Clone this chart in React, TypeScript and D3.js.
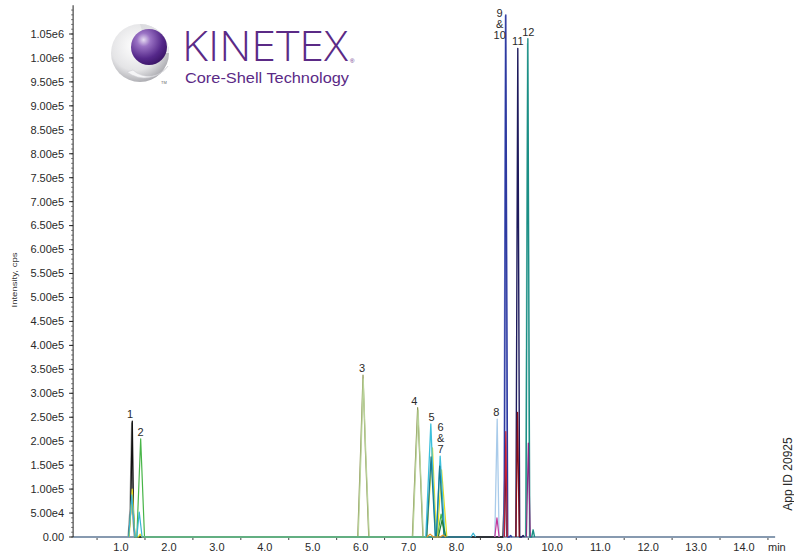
import React from "react";
import * as d3 from "d3";

type Pt = [number, number];

// ---- axis data ----
const xTickValues = [1, 2, 3, 4, 5, 6, 7, 8, 9, 10, 11, 12, 13, 14];
const xMinorValues = [0.5, 1.5, 2.5, 3.5, 4.5, 5.5, 6.5, 7.5, 8.5, 9.5, 10.5, 11.5, 12.5, 13.5, 14.5];
const yTickLabels = [
  "0.00", "5.00e4", "1.00e5", "1.50e5", "2.00e5", "2.50e5", "3.00e5", "3.50e5",
  "4.00e5", "4.50e5", "5.00e5", "5.50e5", "6.00e5", "6.50e5", "7.00e5", "7.50e5",
  "8.00e5", "8.50e5", "9.00e5", "9.50e5", "1.00e6", "1.05e6",
];
const yTickStep = 50000;

// ---- traces (time min, intensity cps) ----
const baseline: Pt[] = [[0, 0], [14.65, 0]];
const traceGray: Pt[] = [[1.15, 0], [1.19, 60000], [1.225, 238000], [1.25, 40000], [1.28, 0]];
const traceBlack: Pt[] = [[1.16, 0], [1.20, 50000], [1.235, 242000], [1.26, 50000], [1.29, 0], [8.97, 0], [9.015, 150000], [9.05, 0]];
const traceYellow: Pt[] = [[1.17, 0], [1.235, 100000], [1.29, 0], [1.36, 0], [1.40, 6000], [1.44, 0], [7.38, 0], [7.50, 186000], [7.58, 0], [7.60, 0], [7.69, 140000], [7.80, 0]];
const traceCyan: Pt[] = [[1.16, 0], [1.225, 88000], [1.29, 0], [1.33, 0], [1.38, 52000], [1.44, 0], [8.30, 0], [8.35, 8000], [8.40, 0]];
const traceCyan2: Pt[] = [[7.36, 0], [7.465, 236000], [7.56, 0], [7.58, 0], [7.66, 169000], [7.76, 0]];
const traceGreen: Pt[] = [[1.33, 0], [1.41, 205000], [1.49, 0], [7.60, 0], [7.68, 48000], [7.76, 0]];
const traceOlive: Pt[] = [[5.94, 0], [6.00, 180000], [6.05, 338000], [6.10, 180000], [6.17, 0], [7.08, 0], [7.14, 150000], [7.19, 270000], [7.24, 150000], [7.30, 0]];
const traceLightGreen: Pt[] = [[5.95, 0], [6.01, 180000], [6.055, 330000], [6.11, 170000], [6.18, 0], [7.09, 0], [7.15, 150000], [7.20, 265000], [7.25, 140000], [7.31, 0]];
const traceDarkTeal: Pt[] = [[7.38, 0], [7.47, 167000], [7.56, 0], [7.58, 0], [7.65, 148000], [7.74, 0]];
const traceDarkGreen: Pt[] = [[7.62, 0], [7.70, 35000], [7.78, 0]];
const traceOrange: Pt[] = [[7.38, 0], [7.45, 6000], [7.52, 0], [7.66, 0], [7.72, 4000], [7.78, 0]];
const traceLightBlue: Pt[] = [[8.80, 0], [8.85, 246000], [8.89, 0]];
const traceMagenta: Pt[] = [[8.80, 0], [8.845, 40000], [8.89, 0]];
const traceBlueLight: Pt[] = [[8.99, 0], [9.02, 1088000], [9.06, 0]];
const traceBlue: Pt[] = [[9.00, 0], [9.03, 1090000], [9.07, 0], [9.10, 0], [9.13, 3000], [9.16, 0]];
const traceCrimson: Pt[] = [[9.00, 0], [9.03, 220000], [9.06, 0]];
const traceNavy: Pt[] = [[9.24, 0], [9.28, 1020000], [9.32, 0], [9.36, 0], [9.39, 3000], [9.42, 0]];
const traceDarkRed: Pt[] = [[9.24, 0], [9.275, 260000], [9.31, 0]];
const traceTeal: Pt[] = [[9.45, 0], [9.49, 1040000], [9.53, 0], [9.57, 0], [9.60, 15000], [9.63, 0]];
const traceTealLight: Pt[] = [[9.44, 0], [9.48, 1030000], [9.52, 0]];
const tracePurple: Pt[] = [[9.46, 0], [9.50, 196000], [9.54, 0]];

const traces: { data: Pt[]; color: string; width: number }[] = [
  { data: baseline, color: "#5f7896", width: 1.6 },
  { data: traceOlive, color: "#8c9552", width: 1.2 },
  { data: traceLightGreen, color: "#b9d39a", width: 1.2 },
  { data: traceGray, color: "#9a9a9a", width: 1.6 },
  { data: traceBlack, color: "#111111", width: 1.3 },
  { data: traceGreen, color: "#48b548", width: 1.2 },
  { data: traceYellow, color: "#e3dc22", width: 1.2 },
  { data: traceCyan, color: "#38b5d3", width: 1.2 },
  { data: traceCyan2, color: "#3cc0dc", width: 1.3 },
  { data: traceDarkTeal, color: "#1a7c92", width: 1.3 },
  { data: traceDarkGreen, color: "#238036", width: 1.2 },
  { data: traceOrange, color: "#e39a2b", width: 1.2 },
  { data: traceLightBlue, color: "#a9cbea", width: 1.3 },
  { data: traceMagenta, color: "#c2389a", width: 1.2 },
  { data: traceBlueLight, color: "#8090d8", width: 1.3 },
  { data: traceBlue, color: "#2e3aa0", width: 1.4 },
  { data: traceCrimson, color: "#c31f36", width: 1.2 },
  { data: traceNavy, color: "#1d1a5c", width: 1.4 },
  { data: traceDarkRed, color: "#8a0f1a", width: 1.3 },
  { data: traceTealLight, color: "#9fd0c8", width: 1.2 },
  { data: traceTeal, color: "#1b8f86", width: 1.4 },
  { data: tracePurple, color: "#8c2a82", width: 1.2 },
];

// ---- peak labels ----
const peakLabels: { lines: string[]; t: number; v: number }[] = [
  { lines: ["1"], t: 1.19, v: 242000 },
  { lines: ["2"], t: 1.41, v: 205000 },
  { lines: ["3"], t: 6.03, v: 338000 },
  { lines: ["4"], t: 7.12, v: 270000 },
  { lines: ["5"], t: 7.48, v: 236000 },
  { lines: ["6", "&", "7"], t: 7.67, v: 169000 },
  { lines: ["8"], t: 8.83, v: 246000 },
  { lines: ["9", "&", "10"], t: 8.86, v: 1090000 },
  { lines: ["11"], t: 9.28, v: 1020000 },
  { lines: ["12"], t: 9.50, v: 1040000 },
];
// label placed beside (not above) the apex for the crowded top group
const labelBeside = new Set(["9"]);

const W = 794;
const H = 552;
const X0 = 73.1;
const PXPERMIN = 47.92;
const Y0 = 537;
const YTOP = 34;

export default function App() {
  const x = d3.scaleLinear().domain([0, 14.65]).range([X0, X0 + 14.65 * PXPERMIN]);
  const y = d3.scaleLinear().domain([0, 1050000]).range([Y0, YTOP]);
  const line = d3.line<Pt>().x((d) => x(d[0])).y((d) => y(d[1])).curve(d3.curveLinear);
  const font = "'Liberation Sans', Arial, Helvetica, sans-serif";
  const axisTop = y(1110000);
  const minorY = d3.range(0, 1100001, 10000);
  const purple = "#5b2a86";

  return (
    <svg width={W} height={H} style={{ position: "absolute", left: 0, top: 0, background: "#fff" }} fontFamily={font}>
      <defs>
        <radialGradient id="shell" cx="0.42" cy="0.38" r="0.7">
          <stop offset="0" stopColor="#ffffff" />
          <stop offset="0.6" stopColor="#e4e4e6" />
          <stop offset="1" stopColor="#9c9ca2" />
        </radialGradient>
        <radialGradient id="core" cx="0.35" cy="0.3" r="0.75">
          <stop offset="0" stopColor="#e6dcf2" />
          <stop offset="0.25" stopColor="#9a72c4" />
          <stop offset="0.7" stopColor="#55288a" />
          <stop offset="1" stopColor="#3a1466" />
        </radialGradient>
        <linearGradient id="inner" x1="0" y1="0" x2="1" y2="1">
          <stop offset="0" stopColor="#d8d8dc" />
          <stop offset="1" stopColor="#f6f6f8" />
        </linearGradient>
      </defs>

      {/* logo */}
      <g>
        <circle cx={140} cy={53} r={29} fill="url(#shell)" />
        <path d="M 140 24 A 29 29 0 0 1 169 53 L 149 53 Z" fill="url(#inner)" opacity={0.9} />
        <circle cx={149} cy={47} r={18} fill="url(#core)" />
        <path d="M 127 72 A 29 29 0 0 0 168 66 A 23 23 0 0 1 133 70 Z" fill="#f4f4f6" stroke="#cfcfd4" strokeWidth={0.6} />
        <text x={161} y={84} fontSize={4} fill="#666">TM</text>
        <text x={182} y={61} fontSize={42} fill={purple} textLength={166} lengthAdjust="spacingAndGlyphs" fontWeight={300} fontFamily="'Open Sans', 'Liberation Sans', sans-serif">KINETEX</text>
        <text x={350} y={63} fontSize={6} fill={purple}>®</text>
        <text x={185} y={83} fontSize={15} fill={purple} textLength={164} lengthAdjust="spacingAndGlyphs">Core-Shell Technology</text>
      </g>

      {/* traces */}
      {traces.map((tr, i) => (
        <path key={i} d={line(tr.data) || ""} fill="none" stroke={tr.color} strokeWidth={tr.width} strokeLinejoin="round" />
      ))}

      {/* y axis */}
      <line x1={X0} x2={X0} y1={Y0} y2={axisTop} stroke="#222" strokeWidth={1} />
      {minorY.map((v) => (
        <line key={"m" + v} x1={X0 - 2} x2={X0} y1={y(v)} y2={y(v)} stroke="#444" strokeWidth={0.7} />
      ))}
      {yTickLabels.map((lab, i) => (
        <g key={lab}>
          <line x1={X0 - 4} x2={X0} y1={y(i * yTickStep)} y2={y(i * yTickStep)} stroke="#222" strokeWidth={1} />
          <text x={X0 - 9} y={y(i * yTickStep)} dy="0.35em" textAnchor="end" fontSize={11} fill="#2a2a2a">{lab}</text>
        </g>
      ))}
      <text transform={`translate(17,280) rotate(-90)`} textAnchor="middle" fontSize={8} fill="#333" textLength={55} lengthAdjust="spacingAndGlyphs">Intensity, cps</text>

      {/* x axis */}
      {xMinorValues.map((v) => (
        <line key={"xm" + v} x1={x(v)} x2={x(v)} y1={Y0 + 1} y2={Y0 + 3} stroke="#444" strokeWidth={1} />
      ))}
      {xTickValues.map((v) => (
        <text key={"xt" + v} x={x(v)} y={551} textAnchor="middle" fontSize={11} fill="#2a2a2a">{v.toFixed(1)}</text>
      ))}
      <text x={768} y={551} fontSize={11} fill="#2a2a2a">min</text>

      {/* peak labels */}
      {peakLabels.map((p, i) => {
        const n = p.lines.length;
        const beside = labelBeside.has(p.lines[0]);
        const baseY = beside ? y(p.v) + 24 : y(p.v) - 3;
        const lx = beside ? x(p.t) + 2 : x(p.t);
        return (
          <g key={"pl" + i}>
            {p.lines.map((l, j) => (
              <text key={j} x={lx} y={baseY - (n - 1 - j) * 11} textAnchor="middle" fontSize={11} fill="#2a2a2a">{l}</text>
            ))}
          </g>
        );
      })}

      <text transform={`translate(792,474) rotate(-90)`} textAnchor="middle" fontSize={12} fill="#2a2a2a">App ID 20925</text>
    </svg>
  );
}
